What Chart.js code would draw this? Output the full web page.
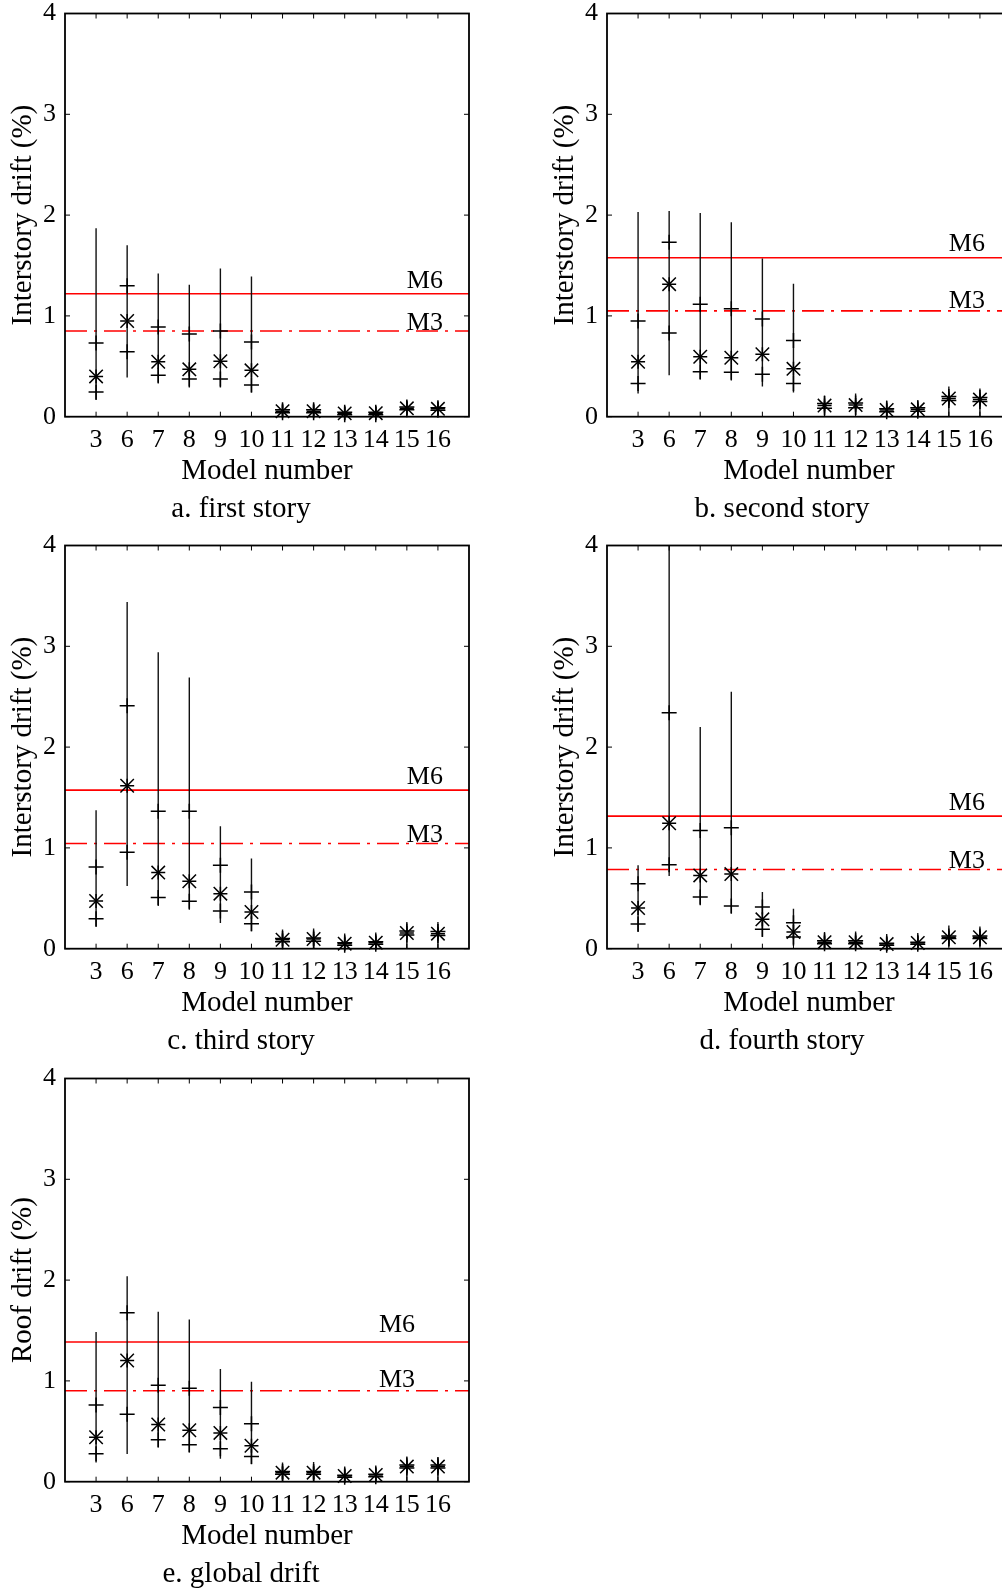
<!DOCTYPE html>
<html>
<head>
<meta charset="utf-8">
<title>Drift by model</title>
<script src="https://cdn.jsdelivr.net/npm/chart.js@4.4.1/dist/chart.umd.min.js"></script>
<style>
  html, body { margin: 0; padding: 0; background: #fff; }
  body { width: 1002px; height: 1589px; position: relative; overflow: hidden; }
  canvas { position: absolute; }
  .cap {
    position: absolute;
    font-family: "Liberation Serif", "Times New Roman", serif;
    font-size: 29px;
    line-height: 34px;
    white-space: nowrap;
    color: #000;
    transform: translate(-50%, -50%);
  }
</style>
</head>
<body>
<canvas id="pa" width="480" height="500" style="left:0px;top:0px"></canvas>
<canvas id="pb" width="480" height="500" style="left:542px;top:0px"></canvas>
<canvas id="pc" width="480" height="500" style="left:0px;top:532px"></canvas>
<canvas id="pd" width="480" height="500" style="left:542px;top:532px"></canvas>
<canvas id="pe" width="480" height="500" style="left:0px;top:1065px"></canvas>

<div class="cap" style="left:241px;top:507px">a. first story</div>
<div class="cap" style="left:782px;top:507px">b. second story</div>
<div class="cap" style="left:241px;top:1039px">c. third story</div>
<div class="cap" style="left:782px;top:1039px">d. fourth story</div>
<div class="cap" style="left:241px;top:1572px">e. global drift</div>

<script>
const models = [3, 6, 7, 8, 9, 10, 11, 12, 13, 14, 15, 16];
const yTicks = [0, 1, 2, 3, 4];

// a. first story
const firstMax  = [1.87, 1.70, 1.42, 1.31, 1.47, 1.39, 0.13, 0.13, 0.10, 0.10, 0.16, 0.15];
const firstHigh = [0.73, 1.30, 0.89, 0.82, 0.85, 0.74, 0.07, 0.07, 0.045, 0.045, 0.095, 0.09];
const firstMed  = [0.40, 0.95, 0.545, 0.47, 0.55, 0.46, 0.055, 0.055, 0.033, 0.035, 0.083, 0.078];
const firstLow  = [0.245, 0.645, 0.41, 0.375, 0.375, 0.315, 0.04, 0.04, 0.02, 0.02, 0.07, 0.065];
const firstMin  = [0.165, 0.39, 0.33, 0.29, 0.29, 0.24, 0.0, 0.0, 0.0, 0.0, 0.03, 0.03];

// b. second story
const secondMax  = [2.03, 2.04, 2.02, 1.93, 1.57, 1.32, 0.21, 0.23, 0.16, 0.16, 0.30, 0.28];
const secondHigh = [0.95, 1.73, 1.115, 1.07, 0.97, 0.755, 0.13, 0.135, 0.08, 0.09, 0.20, 0.19];
const secondMed  = [0.545, 1.315, 0.595, 0.585, 0.62, 0.475, 0.11, 0.115, 0.066, 0.073, 0.18, 0.17];
const secondLow  = [0.33, 0.83, 0.445, 0.44, 0.42, 0.33, 0.085, 0.09, 0.05, 0.055, 0.16, 0.15];
const secondMin  = [0.23, 0.41, 0.37, 0.36, 0.30, 0.24, 0.02, 0.02, 0.0, 0.0, 0.0, 0.0];

// c. third story
const thirdMax  = [1.374, 3.44, 2.94, 2.69, 1.215, 0.894, 0.19, 0.20, 0.15, 0.16, 0.265, 0.265];
const thirdHigh = [0.811, 2.41, 1.363, 1.363, 0.828, 0.563, 0.10, 0.105, 0.06, 0.07, 0.175, 0.17];
const thirdMed  = [0.473, 1.616, 0.755, 0.669, 0.546, 0.364, 0.089, 0.096, 0.05, 0.06, 0.156, 0.149];
const thirdLow  = [0.298, 0.957, 0.507, 0.47, 0.374, 0.248, 0.07, 0.075, 0.035, 0.045, 0.135, 0.13];
const thirdMin  = [0.215, 0.622, 0.424, 0.387, 0.255, 0.172, 0.0, 0.0, 0.0, 0.0, 0.0, 0.0];

// d. fourth story
const fourthMax  = [0.828, 4.0, 2.20, 2.55, 0.563, 0.397, 0.165, 0.17, 0.145, 0.155, 0.23, 0.22];
const fourthHigh = [0.645, 2.34, 1.172, 1.199, 0.414, 0.258, 0.08, 0.08, 0.055, 0.065, 0.125, 0.125];
const fourthMed  = [0.404, 1.245, 0.727, 0.74, 0.291, 0.166, 0.065, 0.065, 0.046, 0.056, 0.113, 0.113];
const fourthLow  = [0.244, 0.834, 0.513, 0.424, 0.192, 0.116, 0.05, 0.05, 0.035, 0.045, 0.10, 0.10];
const fourthMin  = [0.166, 0.72, 0.43, 0.35, 0.116, 0.03, 0.0, 0.0, 0.0, 0.0, 0.02, 0.02];

// e. global (roof) drift
const roofMax  = [1.486, 2.037, 1.686, 1.609, 1.118, 0.992, 0.19, 0.195, 0.15, 0.16, 0.25, 0.245];
const roofHigh = [0.761, 1.676, 0.958, 0.928, 0.735, 0.574, 0.10, 0.10, 0.065, 0.075, 0.165, 0.165];
const roofMed  = [0.441, 1.202, 0.568, 0.511, 0.484, 0.357, 0.09, 0.09, 0.056, 0.066, 0.15, 0.15];
const roofLow  = [0.277, 0.668, 0.417, 0.367, 0.327, 0.25, 0.075, 0.075, 0.045, 0.05, 0.135, 0.135];
const roofMin  = [0.19, 0.274, 0.34, 0.29, 0.227, 0.174, 0.0, 0.0, 0.0, 0.0, 0.0, 0.0];

// code limits per panel (a..e)
const levelM6 = [1.22, 1.577, 1.573, 1.315, 1.386];
const levelM3 = [0.85, 1.05, 1.043, 0.785, 0.902];

const yTitles = ['Interstory drift (%)', 'Interstory drift (%)', 'Interstory drift (%)',
                 'Interstory drift (%)', 'Roof drift (%)'];

const SERIF = '"Liberation Serif", "Times New Roman", serif';

// box with inward tick marks on all four sides
const framePlugin = {
  id: 'frame',
  afterDatasetsDraw(chart) {
    const {ctx, chartArea: a, scales: {x, y}} = chart;
    const tl = 5;
    ctx.save();
    ctx.strokeStyle = '#000';
    ctx.lineWidth = 1;
    ctx.beginPath();
    y.ticks.forEach(t => {
      const py = y.getPixelForValue(t.value);
      ctx.moveTo(a.left, py); ctx.lineTo(a.left + tl, py);
      ctx.moveTo(a.right, py); ctx.lineTo(a.right - tl, py);
    });
    x.ticks.forEach(t => {
      const px = x.getPixelForValue(t.value);
      ctx.moveTo(px, a.bottom); ctx.lineTo(px, a.bottom - tl);
      ctx.moveTo(px, a.top); ctx.lineTo(px, a.top + tl);
    });
    ctx.stroke();
    ctx.lineWidth = 1.8;
    ctx.strokeRect(a.left, a.top, a.right - a.left, a.bottom - a.top);
    ctx.restore();
  }
};

// "M6" / "M3" text just above each limit line
const levelLabels = {
  id: 'levelLabels',
  afterDatasetsDraw(chart, args, opts) {
    const {ctx, scales: {x, y}} = chart;
    ctx.save();
    ctx.font = '26px ' + SERIF;
    ctx.fillStyle = '#000';
    ctx.textAlign = 'left';
    ctx.textBaseline = 'alphabetic';
    opts.items.forEach(it => {
      ctx.fillText(it.text, x.getPixelForValue(opts.x), y.getPixelForValue(it.value) - it.dy);
    });
    ctx.restore();
  }
};

function buildPanel(id, k, max, high, med, low, min, labelX, dy6, dy3) {
  const xs = models.map((m, i) => i + 1);

  const whiskers = [];
  xs.forEach((x, i) => {
    whiskers.push({x: x, y: min[i]}, {x: x, y: max[i]}, {x: x, y: null});
  });
  const bands = [];
  xs.forEach((x, i) => {
    bands.push({x: x, y: low[i]}, {x: x, y: high[i]});
  });
  const medians = xs.map((x, i) => ({x: x, y: med[i]}));

  new Chart(document.getElementById(id), {
    type: 'scatter',
    data: {
      datasets: [
        // median asterisk = diagonal cross + upright cross of equal extent
        {
          data: medians,
          pointStyle: 'crossRot',
          pointRadius: 9.5,
          borderColor: '#000',
          borderWidth: 1.5,
          clip: false
        },
        {
          data: medians,
          pointStyle: 'cross',
          pointRadius: 7,
          borderColor: '#000',
          borderWidth: 1.5,
          clip: false
        },
        {
          data: bands,
          pointStyle: 'cross',
          pointRadius: 7.5,
          borderColor: '#000',
          borderWidth: 1.5,
          clip: false
        },
        {
          type: 'line',
          data: whiskers,
          borderColor: '#111',
          borderWidth: 1.4,
          pointRadius: 0,
          spanGaps: false,
          clip: false
        },
        {
          type: 'line',
          data: [{x: 0, y: levelM6[k]}, {x: 13, y: levelM6[k]}],
          borderColor: '#ff0000',
          borderWidth: 1.6,
          pointRadius: 0
        },
        {
          type: 'line',
          data: [{x: 0, y: levelM3[k]}, {x: 13, y: levelM3[k]}],
          borderColor: '#ff0000',
          borderWidth: 1.6,
          borderDash: [22, 7, 3, 7],
          pointRadius: 0
        }
      ]
    },
    options: {
      responsive: false,
      animation: false,
      events: [],
      layout: { padding: { left: 0, top: 13.5, right: 10.7, bottom: 0 } },
      plugins: {
        legend: { display: false },
        tooltip: { enabled: false },
        levelLabels: {
          x: labelX,
          items: [
            { text: 'M6', value: levelM6[k], dy: dy6 },
            { text: 'M3', value: levelM3[k], dy: dy3 }
          ]
        }
      },
      scales: {
        x: {
          type: 'linear',
          min: 0,
          max: 13,
          offset: false,
          grid: { display: false, drawTicks: false },
          border: { display: false },
          afterBuildTicks: axis => { axis.ticks = xs.map(v => ({ value: v })); },
          afterFit: axis => {
            axis.height = 83.3;
            axis.paddingLeft = 0;
            axis.paddingRight = 0;
          },
          ticks: {
            autoSkip: false,
            maxRotation: 0,
            padding: 8,
            color: '#000',
            font: { family: SERIF, size: 26 },
            callback: v => models[v - 1]
          },
          title: {
            display: true,
            text: 'Model number',
            color: '#000',
            font: { family: SERIF, size: 29 },
            padding: { top: 0, bottom: 11 }
          }
        },
        y: {
          min: 0,
          max: 4,
          grid: { display: false, drawTicks: false },
          border: { display: false },
          afterBuildTicks: axis => { axis.ticks = yTicks.map(v => ({ value: v })); },
          afterFit: axis => {
            axis.width = 65;
            axis.paddingTop = 0;
            axis.paddingBottom = 0;
          },
          ticks: {
            padding: 9,
            color: '#000',
            font: { family: SERIF, size: 26 }
          },
          title: {
            display: true,
            text: yTitles[k],
            color: '#000',
            font: { family: SERIF, size: 29 },
            padding: { top: 6, bottom: 0 }
          }
        }
      }
    },
    plugins: [framePlugin, levelLabels]
  });
}

buildPanel('pa', 0, firstMax, firstHigh, firstMed, firstLow, firstMin, 11, 6, 1.5);
buildPanel('pb', 1, secondMax, secondHigh, secondMed, secondLow, secondMin, 11, 7, 2.5);
buildPanel('pc', 2, thirdMax, thirdHigh, thirdMed, thirdLow, thirdMin, 11, 6, 1.5);
buildPanel('pd', 3, fourthMax, fourthHigh, fourthMed, fourthLow, fourthMin, 11, 6, 1.5);
buildPanel('pe', 4, roofMax, roofHigh, roofMed, roofLow, roofMin, 10.1, 10, 3.4);
</script>
</body>
</html>
